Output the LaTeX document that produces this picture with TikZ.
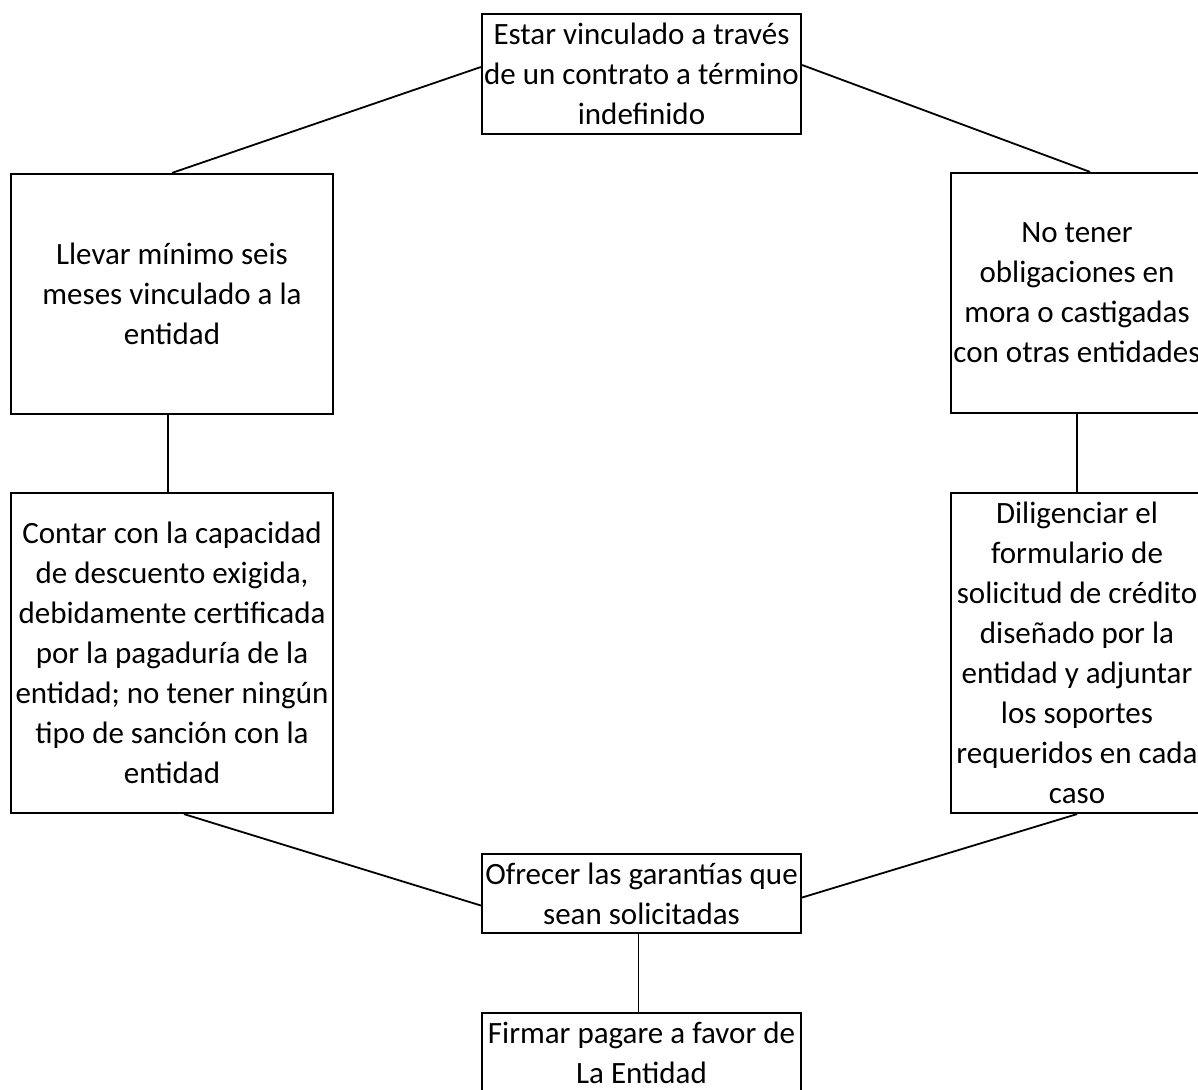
\documentclass[tikz,border=0pt]{standalone}
\usepackage{fontspec}
\setmainfont{Carlito}
\usepackage{tikz}

\tikzset{
  req/.style={draw, line width=2.2pt, align=center, inner sep=2pt,
    font=\fontsize{31}{40}\selectfont},
  link/.style={line width=1.8pt}
}

\begin{document}
\begin{tikzpicture}[x=1pt, y=-1pt]
  \useasboundingbox (0,0) rectangle (1198,1089);

  % Requisitos
  \node[req, minimum width=319pt, minimum height=120pt] (contrato) at (641.5,74)
    {Estar vinculado a través\\de un contrato a término\\indefinido};
  \node[req, minimum width=322pt, minimum height=240pt] (antiguedad) at (172,294)
    {Llevar mínimo seis\\meses vinculado a la\\entidad};
  \node[req, minimum width=252pt, minimum height=240pt] (mora) at (1077,293)
    {No tener\\obligaciones en\\mora o castigadas\\con otras entidades};
  \node[req, minimum width=322pt, minimum height=320pt] (capacidad) at (172,653)
    {Contar con la capacidad\\de descuento exigida,\\debidamente certificada\\por la pagaduría de la\\entidad; no tener ningún\\tipo de sanción con la\\entidad};
  \node[req, minimum width=252pt, minimum height=320pt] (formulario) at (1077,653)
    {Diligenciar el\\formulario de\\solicitud de crédito\\diseñado por la\\entidad y adjuntar\\los soportes\\requeridos en cada\\caso};
  \node[req, minimum width=319pt, minimum height=79pt] (garantias) at (641.5,893.5)
    {Ofrecer las garantías que\\sean solicitadas};
  \node[req, minimum width=319pt, minimum height=80pt] (pagare) at (641.5,1053)
    {Firmar pagare a favor de\\La Entidad};

  % Conexiones
  \draw[link] ([yshift=7pt]contrato.west) -- (antiguedad.north);
  \draw[link] ([yshift=9pt]contrato.east) -- ([xshift=13pt]mora.north);
  \draw[link] ([xshift=-4pt]antiguedad.south) -- ([xshift=-4pt]capacidad.north);
  \draw[link] (mora.south) -- (formulario.north);
  \draw[link] ([xshift=12pt]capacidad.south) -- ([yshift=-12pt]garantias.west);
  \draw[link] (formulario.south) -- ([yshift=-4pt]garantias.east);
  \draw[link] ([xshift=-3pt]garantias.south) -- ([xshift=-3pt]pagare.north);
\end{tikzpicture}
\end{document}
